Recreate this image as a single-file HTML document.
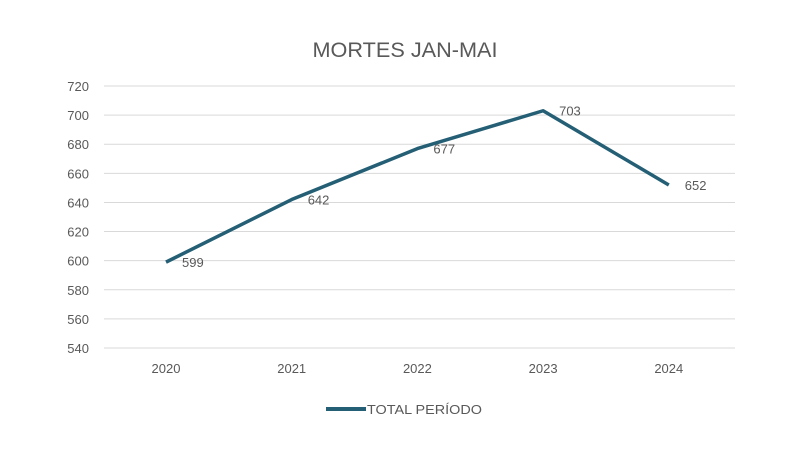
<!DOCTYPE html>
<html><head><meta charset="utf-8"><style>
body{margin:0;background:#fff;width:800px;height:450px;overflow:hidden;font-family:"Liberation Sans",sans-serif}
</style></head><body>
<svg id="chart" width="800" height="450" viewBox="0 0 800 450">
<text x="405" y="57" text-anchor="middle" font-size="21" fill="#595959" textLength="185" lengthAdjust="spacingAndGlyphs">MORTES JAN-MAI</text>
<g id="grid"></g>
<g id="yaxis"></g>
<g id="xaxis"></g>
<g id="series"></g>
<g>
<line x1="326" y1="409" x2="366" y2="409" stroke="#245f75" stroke-width="4"/>
<text x="367" y="414" font-size="13" fill="#595959" textLength="115" lengthAdjust="spacingAndGlyphs">TOTAL PERÍODO</text>
</g>
</svg>
<script>
const categories=["2020","2021","2022","2023","2024"];
const values=[599,642,677,703,652];
const yTicks=[540,560,580,600,620,640,660,680,700,720];
const NS="http://www.w3.org/2000/svg";
const yMin=540,yMax=720,yTop=86,yBot=348;
const xFirst=166,xStep=125.7,gridL=104,gridR=735;
function yScale(v){return yBot-(v-yMin)/(yMax-yMin)*(yBot-yTop);}
function xScale(i){return xFirst+i*xStep;}
function mk(tag,attrs,parent){const e=document.createElementNS(NS,tag);for(const k in attrs)e.setAttribute(k,attrs[k]);parent.appendChild(e);return e;}
const grid=document.getElementById('grid'),ya=document.getElementById('yaxis'),xa=document.getElementById('xaxis'),ser=document.getElementById('series');
yTicks.forEach(t=>{
 const l=mk('line',{x1:gridL,x2:gridR,y1:yScale(t),y2:yScale(t),stroke:'#d9d9d9','stroke-width':1},grid);
 
 
 const tx=mk('text',{x:89,y:yScale(t)+5,'text-anchor':'end','font-size':13,fill:'#595959'},ya);
 tx.textContent=t;
 
 
});
categories.forEach((c,i)=>{
 const tx=mk('text',{x:xScale(i),y:373,'text-anchor':'middle','font-size':13,fill:'#595959'},xa);
 tx.textContent=c;
 
 
});
const pts=values.map((v,i)=>xScale(i)+','+yScale(v)).join(' ');
const pl=mk('polyline',{points:pts,fill:'none',stroke:'#245f75','stroke-width':3.5,'stroke-linejoin':'round'},ser);


values.forEach((v,i)=>{
 const tx=mk('text',{x:xScale(i)+16,y:yScale(v)+5,'font-size':13,fill:'#595959'},ser);
 tx.textContent=v;
 
 
});
</script>
</body></html>
